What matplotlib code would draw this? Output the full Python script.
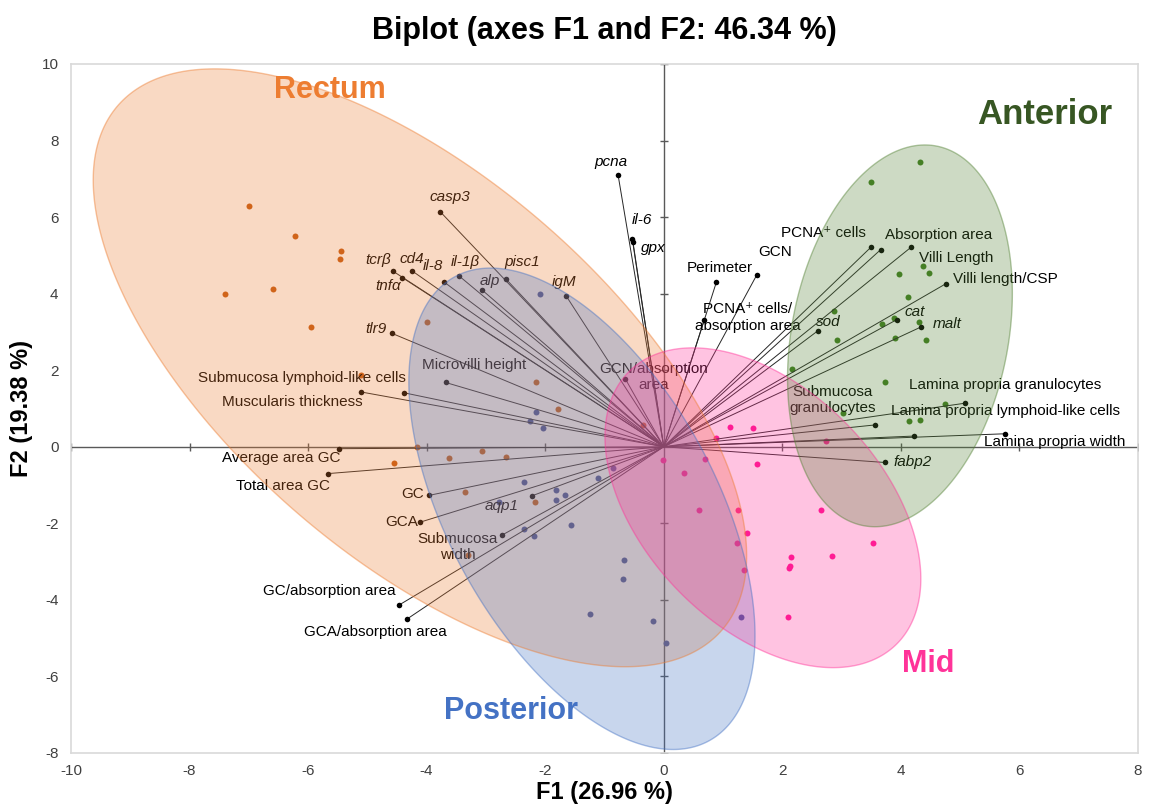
import numpy as np
import matplotlib
matplotlib.use("Agg")
import matplotlib.pyplot as plt
from matplotlib.patches import Polygon

plt.rcParams['font.family'] = ['Liberation Sans', 'DejaVu Sans']
plt.rcParams['axes.unicode_minus'] = False

# ---- observations (factor scores) per intestinal segment ----
rectum_f1 = [-6.99, -6.22, -5.45, -5.46, -7.40, -6.60, -5.95, -3.99, -5.11, -4.17,
             -4.55, -3.63, -3.07, -3.35, -2.16, -1.79, -2.66, -0.35, -2.18, -3.31]
rectum_f2 = [6.30, 5.51, 5.12, 4.90, 4.00, 4.13, 3.13, 3.26, 1.88, 0.00,
             -0.42, -0.30, -0.10, -1.19, 1.70, 0.99, -0.28, 0.57, -1.44, -2.82]

posterior_f1 = [-0.86, -1.11, -2.36, -1.81, -1.67, -1.81, -2.78, -1.57, -2.35, -2.19,
                -0.67, -0.69, -1.24, -0.18, 0.03, 1.31, -2.08, -2.16, -2.25, -2.04]
posterior_f2 = [-0.55, -0.82, -0.93, -1.14, -1.25, -1.38, -1.44, -2.05, -2.14, -2.33,
                -2.96, -3.46, -4.37, -4.56, -5.12, -4.44, 3.99, 0.92, 0.68, 0.50]

mid_f1 = [1.12, 1.51, 0.89, 2.73, -0.01, 0.70, 1.58, 0.34, 0.59, 1.25,
          2.66, 1.40, 1.23, 3.53, 2.15, 2.84, 2.13, 2.12, 1.35, 2.09]
mid_f2 = [0.52, 0.50, 0.23, 0.15, -0.35, -0.32, -0.44, -0.69, -1.65, -1.66,
          -1.66, -2.24, -2.51, -2.51, -2.89, -2.85, -3.12, -3.17, -3.21, -4.44]

anterior_f1 = [4.32, 3.49, 4.37, 4.47, 3.97, 4.12, 2.87, 3.89, 3.68, 4.30,
               3.90, 2.93, 4.42, 2.16, 3.74, 4.75, 3.03, 4.14, 4.32]
anterior_f2 = [7.45, 6.93, 4.73, 4.55, 4.52, 3.90, 3.54, 3.36, 3.21, 3.25,
               2.85, 2.79, 2.78, 2.03, 1.69, 1.12, 0.87, 0.67, 0.69]

# ---- variable loadings (scaled) ----
var_names = ["pcna", "il-6", "gpx", "casp3", "tcrβ", "tnfα", "cd4", "il-8", "il-1β",
             "alp", "pisc1", "igM", "tlr9",
             "PCNA⁺ cells", "Villi Length", "Absorption area", "Villi length/CSP",
             "Perimeter", "GCN", "PCNA⁺ cells/\nabsorption area", "sod", "cat", "malt",
             "GCN/absorption\narea", "aqp1", "Submucosa\nwidth", "Microvilli height",
             "Submucosa lymphoid-like cells", "Muscularis thickness", "Average area GC",
             "Total area GC", "GC", "GCA", "GC/absorption area", "GCA/absorption area",
             "Submucosa\ngranulocytes", "Lamina propria granulocytes",
             "Lamina propria lymphoid-like cells", "Lamina propria width", "fabp2"]
var_f1 = [-0.77, -0.53, -0.52, -3.77, -4.56, -4.41, -4.25, -3.71, -3.45,
          -3.06, -2.66, -1.65, -4.58,
          3.50, 3.66, 4.17, 4.76,
          0.89, 1.57, 0.68, 2.60, 3.93, 4.34,
          -0.65, -2.22, -2.72, -3.68,
          -4.38, -5.10, -5.47,
          -5.66, -3.96, -4.11, -4.46, -4.33,
          3.56, 5.09,
          4.22, 5.76, 3.73]
var_f2 = [7.10, 5.42, 5.36, 6.14, 4.58, 4.42, 4.60, 4.31, 4.46,
          4.09, 4.38, 3.95, 2.96,
          5.22, 5.15, 5.21, 4.26,
          4.31, 4.49, 3.30, 3.03, 3.32, 3.13,
          1.78, -1.28, -2.30, 1.68,
          1.41, 1.43, -0.05,
          -0.70, -1.27, -1.97, -4.13, -4.50,
          0.57, 1.14,
          0.28, 0.34, -0.41]
gene_names = {"pcna", "il-6", "gpx", "casp3", "tcrβ", "tnfα", "cd4", "il-8", "il-1β",
              "alp", "pisc1", "igM", "tlr9", "sod", "cat", "malt", "aqp1", "fabp2"}

# ---- confidence ellipses: centre and two conjugate semi-diameter end points ----
rectum_ellipse = [(-4.113, 2.063), (0.982, -4.789), (-6.215, -1.684)]
posterior_ellipse = [(-1.38, -1.62), (0.766, -7.68), (-3.36, -3.30)]
mid_ellipse = [(1.673, -1.593), (3.919, -5.17), (0.24, -3.75)]
anterior_ellipse = [(3.985, 2.898), (4.602, 7.856), (5.778, 2.363)]

# label placement for each variable: offset in pixels and horizontal alignment
label_layout = {
    "pcna": (-7, 13, "center"), "il-6": (10, 19, "center"), "gpx": (20, -6, "center"),
    "casp3": (10, 15, "center"), "tcrβ": (-15, 11, "center"), "tnfα": (-14, -8, "center"),
    "cd4": (0, 12, "center"), "il-8": (-11, 16, "center"), "il-1β": (6, 14, "center"),
    "alp": (7, 9, "center"), "pisc1": (16, 17, "center"), "igM": (-2, 14, "center"),
    "tlr9": (-16, 4, "center"),
    "PCNA⁺ cells": (-5, 14, "right"), "Villi Length": (38, -8, "left"),
    "Absorption area": (-26, 12, "left"), "Villi length/CSP": (7, 5, "left"),
    "Perimeter": (3, 14, "center"), "GCN": (18, 23, "center"),
    "PCNA⁺ cells/\nabsorption area": (44, 3, "center"), "sod": (10, 9, "center"),
    "cat": (18, 8, "center"), "malt": (26, 3, "center"),
    "GCN/absorption\narea": (28, 2, "center"), "aqp1": (-30, -10, "center"),
    "Submucosa\nwidth": (-45, -12, "center"), "Microvilli height": (29, 17, "center"),
    "Submucosa lymphoid-like cells": (2, 15, "right"),
    "Muscularis thickness": (1, -10, "right"), "Average area GC": (1, -9, "right"),
    "Total area GC": (2, -12, "right"), "GC": (-5, 1, "right"), "GCA": (-2, 0, "right"),
    "GC/absorption area": (-4, 14, "right"), "GCA/absorption area": (-32, -13, "center"),
    "Submucosa\ngranulocytes": (-42, 25, "center"),
    "Lamina propria granulocytes": (-56, 18, "left"),
    "Lamina propria lymphoid-like cells": (-23, 25, "left"),
    "Lamina propria width": (-21, -8, "left"), "fabp2": (9, 0, "left"),
}

groups = [
    ("Rectum", rectum_f1, rectum_f2, rectum_ellipse, "#C55A11", "#ED7D31", "#ED7D31", (-5.64, 9.32), 22),
    ("Posterior", posterior_f1, posterior_f2, posterior_ellipse, "#3F4F96", "#4472C4", "#4472C4", (-2.58, -6.89), 22),
    ("Mid", mid_f1, mid_f2, mid_ellipse, "#FF1493", "#FF3399", "#FF3399", (4.47, -5.67), 22),
    ("Anterior", anterior_f1, anterior_f2, anterior_ellipse, "#3F7F1F", "#548235", "#375623", (6.43, 8.67), 25),
]

fig = plt.figure(figsize=(11.52, 8.05), dpi=100)
ax = fig.add_axes([0.0616, 0.0646, 0.9262, 0.8559])
ax.set_xlim(-10, 8)
ax.set_ylim(-8, 10)
ax.set_xticks(np.arange(-10, 9, 2))
ax.set_yticks(np.arange(-8, 11, 2))
for s in ax.spines.values():
    s.set_color("#D9D9D9")
    s.set_linewidth(1.2)
ax.tick_params(length=0, labelsize=11, labelcolor="#404040")
ax.tick_params(axis="y", pad=9)
ax.tick_params(axis="x", pad=8)

# axes crossing at the origin with cross tick marks
ax.axhline(0, color="#595959", lw=1.0, zorder=1.5)
ax.axvline(0, color="#595959", lw=1.0, zorder=1.5)
yt = [v for v in np.arange(-8, 11, 2) if v != 0]
xt = [v for v in np.arange(-10, 9, 2) if v != 0]
ax.plot(np.zeros(len(yt)), yt, ls="none", marker="_", ms=6, mew=1.0, color="#595959", zorder=1.5)
ax.plot(xt, np.zeros(len(xt)), ls="none", marker="|", ms=6, mew=1.0, color="#595959", zorder=1.5)

# observations
for name, fx, fy, ell, pc, ec, tc, tpos, fs in groups:
    ax.plot(fx, fy, ls="none", marker="o", ms=4.3, color=pc, mew=0, zorder=2)

# variable vectors
for nm, x, y in zip(var_names, var_f1, var_f2):
    ax.plot([0, x], [0, y], color="#262626", lw=0.7, zorder=3)
    ax.plot([x], [y], ls="none", marker="o", ms=4, color="black", mew=0, zorder=3.1)
    dx, dy, ha = label_layout[nm]
    ax.annotate(nm, (x, y), xytext=(dx, dy), textcoords="offset pixels",
                ha=ha, va="center", fontsize=11, color="black",
                style="italic" if nm in gene_names else "normal",
                multialignment="center", zorder=3.2)

# confidence ellipses drawn over the points and vectors
t = np.linspace(0, 2 * np.pi, 400)
for name, fx, fy, ell, pc, ec, tc, tpos, fs in groups:
    c = np.array(ell[0])
    u = np.array(ell[1]) - c
    v = np.array(ell[2]) - c
    pts = c[None, :] + np.cos(t)[:, None] * u[None, :] + np.sin(t)[:, None] * v[None, :]
    ax.add_patch(Polygon(pts, closed=True, facecolor=ec, alpha=0.29, edgecolor="none", zorder=4))
    ax.add_patch(Polygon(pts, closed=True, facecolor="none", edgecolor=ec, alpha=0.45, lw=1.0, zorder=4.1))
    ax.text(tpos[0], tpos[1], name, color=tc, fontsize=fs, fontweight="bold",
            ha="center", va="center", zorder=5)

ax.set_title("Biplot (axes F1 and F2: 46.34 %)", fontsize=22, fontweight="bold", pad=18)
ax.set_xlabel("F1 (26.96 %)", fontsize=17, fontweight="bold", labelpad=2)
ax.set_ylabel("F2 (19.38 %)", fontsize=17, fontweight="bold", labelpad=6)

fig.savefig("out.png", dpi=100)
